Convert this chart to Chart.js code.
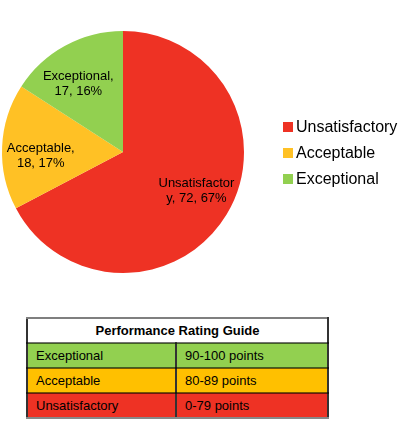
<!DOCTYPE html>
<html>
<head>
<meta charset="utf-8">
<script src="https://cdn.jsdelivr.net/npm/chart.js@4"></script>
<style>
  body { margin: 0; background: #fff; font-family: "Liberation Sans", Arial, sans-serif; }
  #wrap { position: relative; width: 399px; height: 447px; }
  #chartBox { position: absolute; left: 0; top: 0; width: 399px; height: 304px; }
  #legend { position: absolute; left: 283px; top: 118px; }
  .leg-item { position: relative; height: 26px; font-size: 16px; line-height: 18px; color: #000; white-space: nowrap; }
  .leg-item i { position: absolute; left: 0; top: 4px; width: 10px; height: 10px; }
  .leg-item span { position: absolute; left: 13px; top: 0; }
  #guide { position: absolute; left: 26px; top: 317px; width: 303px; border-collapse: collapse; font-size: 13px; color: #000; }
  #guide th { height: 23px; font-weight: bold; text-align: center; background: #fff; border-top: 2px solid #7f7f7f; border-left: 2px solid #333; border-right: 2px solid #333; border-bottom: 2px solid rgba(0,0,0,0.55); padding: 0; }
  #guide td { height: 23px; padding: 0 0 0 8px; border-bottom: 2px solid rgba(0,0,0,0.55); border-left: 2px solid #333; border-right: 2px solid #333; }
  #guide td + td { border-left: 1px solid #222; }
  #guide tr:last-child td { border-bottom: 2px solid #888; }
</style>
</head>
<body>
<div id="wrap">
  <div id="chartBox"><canvas id="pie"></canvas></div>
  <div id="legend"></div>
  <table id="guide"></table>
</div>
<script>
const categories = ["Unsatisfactory", "Acceptable", "Exceptional"];
const counts = [72, 18, 17];
const sliceColors = ["#EE3224", "#FFC125", "#92D050"];

const guideTitle = "Performance Rating Guide";
const guideRatings = ["Exceptional", "Acceptable", "Unsatisfactory"];
const guideRanges = ["90-100 points", "80-89 points", "0-79 points"];
const guideColors = ["#92D050", "#FFC000", "#EE3224"];

const total = counts.reduce((a, b) => a + b, 0);

// wrap a label into lines no wider than maxW, breaking long words by character
function wrapLabel(ctx, text, maxW) {
  const lines = [];
  let line = "";
  text.split(" ").forEach((word) => {
    const test = line ? line + " " + word : word;
    if (ctx.measureText(test).width <= maxW) { line = test; return; }
    if (line) { lines.push(line); line = ""; }
    let rest = word;
    while (ctx.measureText(rest).width > maxW) {
      let n = rest.length;
      while (n > 1 && ctx.measureText(rest.slice(0, n)).width > maxW) n--;
      lines.push(rest.slice(0, n));
      rest = rest.slice(n);
    }
    line = rest;
  });
  if (line) lines.push(line);
  return lines;
}

const sliceLabels = {
  id: "sliceLabels",
  afterDatasetsDraw(chart) {
    const ctx = chart.ctx;
    const meta = chart.getDatasetMeta(0);
    ctx.save();
    ctx.font = '13px "Liberation Sans", Arial, sans-serif';
    ctx.fillStyle = "#000";
    ctx.textAlign = "center";
    ctx.textBaseline = "middle";
    meta.data.forEach((arc, i) => {
      const { x, y, startAngle, endAngle, outerRadius } = arc.getProps(["x", "y", "startAngle", "endAngle", "outerRadius"], true);
      // labels sit a little before the middle of each slice, like the original
      const mid = (startAngle + endAngle) / 2 - 0.075;
      const r = outerRadius * 0.68;
      const cx = x + Math.cos(mid) * r;
      const cy = y + Math.sin(mid) * r + 1.5;
      const pct = Math.round((counts[i] / total) * 100);
      const lines = wrapLabel(ctx, categories[i] + ", " + counts[i] + ", " + pct + "%", 80);
      const lh = 15;
      lines.forEach((ln, k) => {
        ctx.fillText(ln, cx, cy + (k - (lines.length - 1) / 2) * lh);
      });
    });
    ctx.restore();
  },
};

new Chart(document.getElementById("pie"), {
  type: "pie",
  data: {
    labels: categories,
    datasets: [{ data: counts, backgroundColor: sliceColors, borderWidth: 0 }],
  },
  options: {
    responsive: true,
    maintainAspectRatio: false,
    animation: false,
    layout: { padding: { left: 2, right: 155, top: 31, bottom: 31 } },
    plugins: { legend: { display: false }, tooltip: { enabled: false } },
  },
  plugins: [sliceLabels],
});

document.getElementById("legend").innerHTML = categories
  .map((c, i) => `<div class="leg-item"><i style="background:${sliceColors[i]}"></i><span>${c}</span></div>`)
  .join("");

document.getElementById("guide").innerHTML =
  `<tr><th colspan="2">${guideTitle}</th></tr>` +
  guideRatings
    .map((r, i) => `<tr style="background:${guideColors[i]}"><td style="width:139px">${r}</td><td>${guideRanges[i]}</td></tr>`)
    .join("");
</script>
</body>
</html>
